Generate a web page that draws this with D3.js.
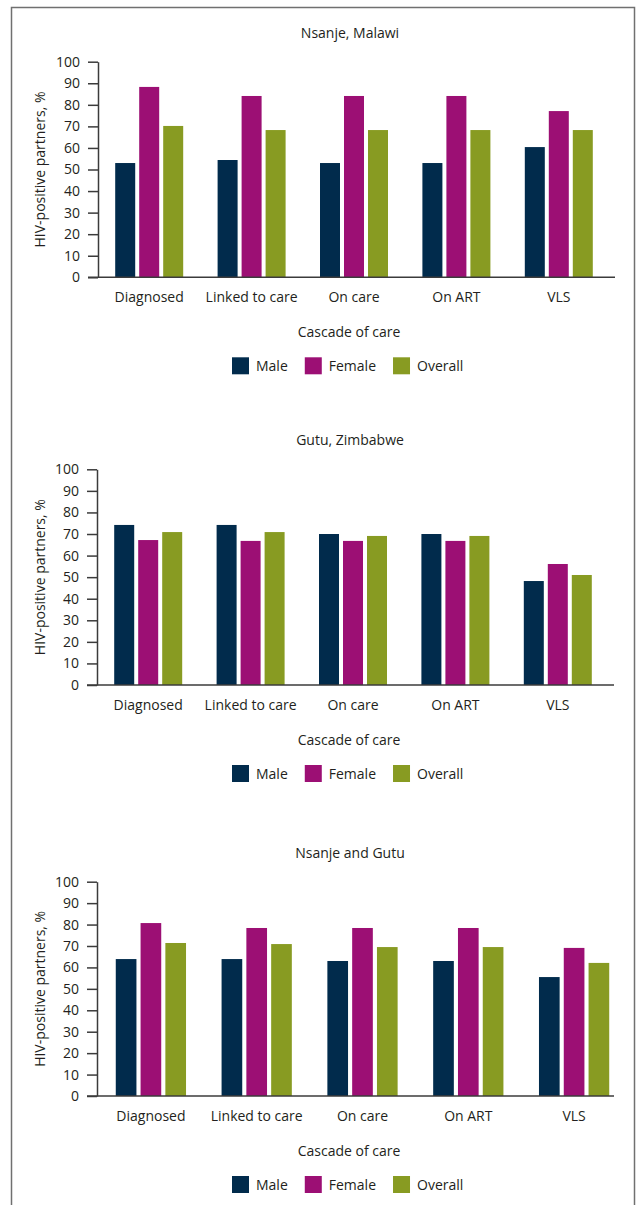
<!DOCTYPE html>
<html>
<head>
<meta charset="utf-8">
<script src="https://cdn.jsdelivr.net/npm/d3@7"></script>
<style>
  body { margin: 0; background: #fff; }
  text { font-family: "Open Sans", sans-serif; fill: #231f20; }
</style>
</head>
<body>
<svg id="chart" width="638" height="1205"></svg>
<script>
// categories and series
const categories = ["Diagnosed", "Linked to care", "On care", "On ART", "VLS"]
const seriesNames = ["Male", "Female", "Overall"]
const seriesColors = ["#012b4c", "#9c0f74", "#889b22"]
const yTicks = [0, 10, 20, 30, 40, 50, 60, 70, 80, 90, 100]

// Nsanje, Malawi
const nsanjeMale = [53.0, 54.4, 53.0, 53.0, 60.4]
const nsanjeFemale = [88.3, 84.1, 84.1, 84.1, 77.1]
const nsanjeOverall = [70.2, 68.3, 68.3, 68.3, 68.3]

// Gutu, Zimbabwe
const gutuMale = [74.2, 74.2, 70.0, 70.0, 48.2]
const gutuFemale = [67.2, 66.8, 66.8, 66.8, 56.1]
const gutuOverall = [70.9, 70.9, 69.1, 69.1, 51.0]

// Nsanje and Gutu
const bothMale = [63.9, 63.9, 63.0, 63.0, 55.5]
const bothFemale = [80.7, 78.4, 78.4, 78.4, 69.1]
const bothOverall = [71.4, 70.9, 69.5, 69.5, 62.1]

let svg = d3.select("#chart")

// the frame round all three panels (bottom runs off the page)
svg.append("rect")
    .attr("x", 11.5).attr("y", 7.5)
    .attr("width", 623).attr("height", 1300)
    .attr("fill", "none")
    .attr("stroke", "#707070")
    .attr("stroke-width", 1.5)

function drawPanel(title, male, female, overall, layout) {
    let g = svg.append("g")
    let values = [male, female, overall]

    let x0 = d3.scaleBand().domain(categories)
        .range([layout.bandStart, layout.right])
        .paddingInner(0.336).paddingOuter(0.168)
    let x1 = d3.scaleBand().domain(seriesNames)
        .range([0, x0.bandwidth()])
        .paddingInner(4 / 24)
    let y = d3.scaleLinear().domain([0, 100]).range([layout.bottom, layout.top])

    // title
    g.append("text")
        .attr("x", 350).attr("y", layout.top - 24)
        .attr("text-anchor", "middle")
        .attr("font-size", 14)
        .text(title)

    // bars
    categories.forEach(function(cat, i) {
        g.selectAll(null)
            .data(seriesNames)
            .enter().append("rect")
            .attr("x", function(s) { return x0(cat) + x1(s) })
            .attr("y", function(s, j) { return y(values[j][i]) })
            .attr("width", x1.bandwidth())
            .attr("height", function(s, j) { return y(0) - y(values[j][i]) })
            .attr("fill", function(s, j) { return seriesColors[j] })
    })

    // y axis
    let yAxis = d3.axisLeft(y).tickValues(yTicks).tickSize(10).tickSizeOuter(0).tickPadding(8)
    let ya = g.append("g")
        .attr("transform", `translate(${layout.left}, 0)`)
        .call(yAxis)
    ya.selectAll("text").attr("font-size", 14).attr("font-family", "Open Sans").attr("fill", "#231f20")
    ya.selectAll("line, path").attr("stroke", "#3b3b3b").attr("stroke-width", 1.5)

    // baseline
    g.append("line")
        .attr("x1", layout.left - 10).attr("x2", layout.axisEnd)
        .attr("y1", y(0)).attr("y2", y(0))
        .attr("stroke", "#3b3b3b").attr("stroke-width", 1.5)

    // x axis labels
    let xAxis = d3.axisBottom(x0).tickSize(0).tickPadding(15)
    let xa = g.append("g")
        .attr("transform", `translate(0, ${y(0)})`)
        .call(xAxis)
    xa.select(".domain").remove()
    xa.selectAll("text").attr("font-size", 14).attr("font-family", "Open Sans").attr("fill", "#231f20")

    // axis titles
    let yMid = (layout.top + layout.bottom) / 2
    g.append("text")
        .attr("transform", `translate(45, ${yMid}) rotate(-90)`)
        .attr("text-anchor", "middle")
        .attr("font-size", 14)
        .text("HIV-positive partners, %")
    g.append("text")
        .attr("x", 349).attr("y", y(0) + 60)
        .attr("text-anchor", "middle")
        .attr("font-size", 14)
        .text("Cascade of care")

    // legend
    let legend = g.append("g").attr("transform", `translate(232, ${y(0) + 80})`)
    let cursor = 0
    seriesNames.forEach(function(s, j) {
        legend.append("rect")
            .attr("x", cursor).attr("y", 0)
            .attr("width", 17).attr("height", 17)
            .attr("fill", seriesColors[j])
        let t = legend.append("text")
            .attr("x", cursor + 24).attr("y", 14)
            .attr("font-size", 14)
            .text(s)
        cursor += 24 + t.node().getComputedTextLength() + 17
    })
}

drawPanel("Nsanje, Malawi", nsanjeMale, nsanjeFemale, nsanjeOverall,
    { left: 98, bandStart: 98, right: 610, axisEnd: 615, top: 61.7, bottom: 277.3 })
drawPanel("Gutu, Zimbabwe", gutuMale, gutuFemale, gutuOverall,
    { left: 97, bandStart: 97, right: 609, axisEnd: 614, top: 469.3, bottom: 685 })
drawPanel("Nsanje and Gutu", bothMale, bothFemale, bothOverall,
    { left: 97, bandStart: 98, right: 627, axisEnd: 614, top: 881.7, bottom: 1096 })
</script>
</body>
</html>
